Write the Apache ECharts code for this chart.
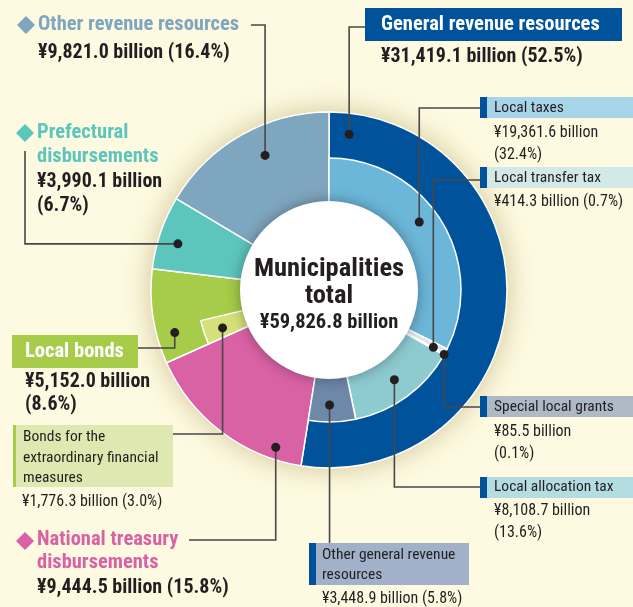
<!DOCTYPE html>
<html>
<head>
<meta charset="utf-8">
<script src="https://cdn.jsdelivr.net/npm/echarts@6/dist/echarts.min.js"></script>
<style>
  html, body { margin: 0; padding: 0; background: #fdfae1; }
  #main { width: 633px; height: 607px; }
</style>
</head>
<body>
<div id="main"></div>
<script>
// municipalities revenue, billions of yen
const mainNames = ['General revenue resources', 'National treasury disbursements', 'Local bonds', 'Prefectural disbursements', 'Other revenue resources']
const mainValues = [31419.1, 9444.5, 5152.0, 3990.1, 9821.0]
const mainShares = ['52.5%', '15.8%', '8.6%', '6.7%', '16.4%']

const generalNames = ['Local taxes', 'Local transfer tax', 'Special local grants', 'Local allocation tax', 'Other general revenue resources']
const generalValues = [19361.6, 414.3, 85.5, 8108.7, 3448.9]
const generalShares = ['32.4%', '0.7%', '0.1%', '13.6%', '5.8%']

const bondsName = 'Bonds for the extraordinary financial measures'
const bondsValue = 1776.3
const bondsShare = '3.0%'
const totalValue = 59826.8

const F = "'Liberation Sans Narrow', 'Arial Narrow', 'Roboto Condensed', sans-serif"
const DARK = '#231f20'
const LINE = '#4a4747'
const CX = 329, CY = 290
const R_IN = 89, R_MID = 132, R_OUT = 178
const BIG = 20.5, VAL = 20, SMALL = 15.5, SVAL = 16

const mainColors = ['#00529b', '#d962a5', '#a6cc49', '#5cc6bd', '#7fa6bf']
const generalColors = ['#6cb6d9', '#dfe5e7', '#9aa5b0', '#8dcbd0', '#6e88a9']
const bondsColor = '#d5e07a'

const yen = v => '¥' + v.toLocaleString('en-US', { minimumFractionDigits: 1 }) + ' billion'

// inner ring: general breakdown, then pass-through (transparent) slices
const clear = { color: 'rgba(0,0,0,0)', borderWidth: 0 }
const innerData = generalValues.map((v, i) => ({ value: v, name: generalNames[i], itemStyle: { color: generalColors[i] } }))
  .concat([
    { value: mainValues[1], name: 'n', itemStyle: clear },
    { value: bondsValue, name: bondsName, itemStyle: { color: bondsColor } },
    { value: mainValues[2] - bondsValue, name: 'b', itemStyle: clear },
    { value: mainValues[3], name: 'p', itemStyle: clear },
    { value: mainValues[4], name: 'o', itemStyle: clear },
  ])
const innerValues = innerData.map(d => d.value)

// point inside a slice: angle clockwise from 12 o'clock
function slicePoint(values, idx, frac, r) {
  const total = values.reduce((a, b) => a + b, 0)
  let start = 0
  for (let i = 0; i < idx; i++) start += values[i]
  const a = (start + frac * values[idx]) / total * Math.PI * 2
  return [CX + r * Math.sin(a), CY - r * Math.cos(a)]
}

const g = []
function text(t, x, y, size, color, bold) {
  g.push({ type: 'text', z: 100, style: { text: t, x: x, y: y, fill: color, fontSize: size, fontWeight: bold ? 'bold' : 'normal', fontFamily: F, verticalAlign: 'middle' } })
}
function rect(x, y, w, h, color) {
  g.push({ type: 'rect', z: 99, shape: { x: x, y: y, width: w, height: h }, style: { fill: color } })
}
function diamond(x, y, color) {
  g.push({ type: 'polygon', z: 99, shape: { points: [[x, y - 9], [x + 9, y], [x, y + 9], [x - 9, y]] }, style: { fill: color } })
}
function leader(pt, pts) {
  g.push({ type: 'polyline', z: 100, shape: { points: [pt].concat(pts) }, style: { stroke: LINE, lineWidth: 1.6, fill: null } })
  g.push({ type: 'circle', z: 101, shape: { cx: pt[0], cy: pt[1], r: 4.5 }, style: { fill: DARK } })
}
function tag(x, y, w, h, bg, bar, barW) {
  rect(x, y, w, h, bg)
  rect(x, y, barW, h, bar)
}

// other revenue resources
let p = slicePoint(mainValues, 4, 0.57, 149)
leader(p, [[p[0], 25], [251, 25]])
diamond(26, 25, mainColors[4])
text(mainNames[4], 38, 25, BIG, mainColors[4], true)
text(yen(mainValues[4]) + ' (' + mainShares[4] + ')', 38, 53, VAL, DARK, true)

// general revenue resources
p = slicePoint(mainValues, 0, 0.039, 157)
leader(p, [[p[0], 27], [365, 27]])
rect(365, 8, 257, 33, mainColors[0])
text(mainNames[0], 381, 25, BIG, '#ffffff', true)
text(yen(mainValues[0]) + ' (' + mainShares[0] + ')', 381, 57, VAL, DARK, true)

// local taxes
p = slicePoint(innerValues, 0, 0.455, 113)
leader(p, [[p[0], 108], [480, 108]])
tag(480, 97, 153, 21, '#a6d4e8', mainColors[0], 7)
text(generalNames[0], 494, 108, SMALL, DARK, false)
text(yen(generalValues[0]), 494, 133, SVAL, DARK, false)
text('(' + generalShares[0] + ')', 494, 155, SVAL, DARK, false)

// local transfer tax
p = slicePoint(innerValues, 1, 0.9, 119)
leader(p, [[p[0], 180], [480, 180]])
tag(480, 167, 153, 21, '#d3e9e8', mainColors[0], 7)
text(generalNames[1], 494, 178, SMALL, DARK, false)
text(yen(generalValues[1]) + ' (' + generalShares[1] + ')', 494, 202, SVAL, DARK, false)

// special local grants
p = slicePoint(innerValues, 2, 0.5, 132)
leader(p, [[p[0], 407], [480, 407]])
tag(480, 396, 153, 21, '#adb9c5', mainColors[0], 7)
text(generalNames[2], 494, 407, SMALL, DARK, false)
text(yen(generalValues[2]), 494, 432, SVAL, DARK, false)
text('(' + generalShares[2] + ')', 494, 454, SVAL, DARK, false)

// local allocation tax
p = slicePoint(innerValues, 3, 0.5, 111)
leader(p, [[p[0], 487], [480, 487]])
tag(480, 477, 153, 21, '#b4dde1', mainColors[0], 7)
text(generalNames[3], 494, 487, SMALL, DARK, false)
text(yen(generalValues[3]), 494, 511, SVAL, DARK, false)
text('(' + generalShares[3] + ')', 494, 533, SVAL, DARK, false)

// other general revenue resources
p = slicePoint(innerValues, 4, 0.55, 115)
leader(p, [[p[0], 543]])
tag(309, 543, 160, 42, '#a0b1c9', mainColors[0], 7)
text('Other general revenue', 322, 555, SMALL, DARK, false)
text('resources', 322, 575, SMALL, DARK, false)
text(yen(generalValues[4]) + ' (' + generalShares[4] + ')', 322, 599, SVAL, DARK, false)

// local bonds
p = slicePoint(mainValues, 2, 0.28, 160)
leader(p, [[p[0], 348], [138, 348]])
rect(12, 335, 126, 33, mainColors[2])
text(mainNames[2], 25, 352, BIG, '#ffffff', true)
text(yen(mainValues[2]), 25, 382, VAL, DARK, true)
text('(' + mainShares[2] + ')', 25, 405, VAL, DARK, true)

// bonds for the extraordinary financial measures
p = slicePoint(innerValues, 6, 0.42, 113)
leader(p, [[p[0], 434], [173, 434]])
tag(13, 425, 160, 62, '#dfe8b1', mainColors[2], 3)
text('Bonds for the', 23, 437, SMALL, DARK, false)
text('extraordinary financial', 23, 458, SMALL, DARK, false)
text('measures', 23, 478, SMALL, DARK, false)
text(yen(bondsValue) + ' (' + bondsShare + ')', 22, 502, SVAL, DARK, false)

// national treasury disbursements
p = slicePoint(mainValues, 1, 0.17, 166)
leader(p, [[p[0], 540], [189, 540]])
diamond(25, 541, mainColors[1])
text('National treasury', 37, 540, BIG, mainColors[1], true)
text('disbursements', 37, 563, BIG, mainColors[1], true)
text(yen(mainValues[1]) + ' (' + mainShares[1] + ')', 37, 588, VAL, DARK, true)

// prefectural disbursements
p = slicePoint(mainValues, 3, 0.42, 158)
leader(p, [[25, p[1]], [25, 151]])
diamond(25, 133, mainColors[3])
text('Prefectural', 37, 133, BIG, mainColors[3], true)
text('disbursements', 37, 157, BIG, mainColors[3], true)
text(yen(mainValues[3]), 37, 182, VAL, DARK, true)
text('(' + mainShares[3] + ')', 37, 206, VAL, DARK, true)

const chart = echarts.init(document.getElementById('main'))
chart.setOption({
  backgroundColor: '#fdfae1',
  animation: false,
  series: [
    {
      // soft glow behind the donut
      type: 'pie', z: 1, silent: true, center: [CX, CY], radius: [0, R_OUT],
      label: { show: false },
      data: [{ value: 1, itemStyle: { color: '#fdfae1', shadowBlur: 28, shadowColor: 'rgba(150,125,50,0.45)' } }],
    },
    {
      type: 'pie', z: 2, silent: true, center: [CX, CY], radius: [60, R_OUT],
      startAngle: 90, clockwise: true, label: { show: false },
      itemStyle: { borderColor: '#ffffff', borderWidth: 1.5 },
      data: mainValues.map((v, i) => ({ value: v, name: mainNames[i], itemStyle: { color: mainColors[i] } })),
    },
    {
      type: 'pie', z: 3, silent: true, center: [CX, CY], radius: [60, R_MID],
      startAngle: 90, clockwise: true, label: { show: false },
      itemStyle: { borderColor: '#ffffff', borderWidth: 1.5 },
      data: innerData,
    },
    {
      type: 'pie', z: 4, silent: true, center: [CX, CY], radius: [0, R_IN],
      labelLine: { show: false },
      label: {
        show: true, position: 'center', fontFamily: F, color: DARK, padding: [12, 0, 0, 0],
        formatter: '{a|Municipalities}\n{a|total}\n{b|' + yen(totalValue) + '}',
        rich: {
          a: { fontSize: 26.5, fontWeight: 'bold', lineHeight: 27, fontFamily: F, color: DARK },
          b: { fontSize: 20.5, fontWeight: 'bold', lineHeight: 27, fontFamily: F, color: DARK },
        },
      },
      data: [{ value: 1, itemStyle: { color: '#ffffff', shadowBlur: 14, shadowColor: 'rgba(0,0,0,0.35)' } }],
    },
  ],
  graphic: g,
})
</script>
</body>
</html>
